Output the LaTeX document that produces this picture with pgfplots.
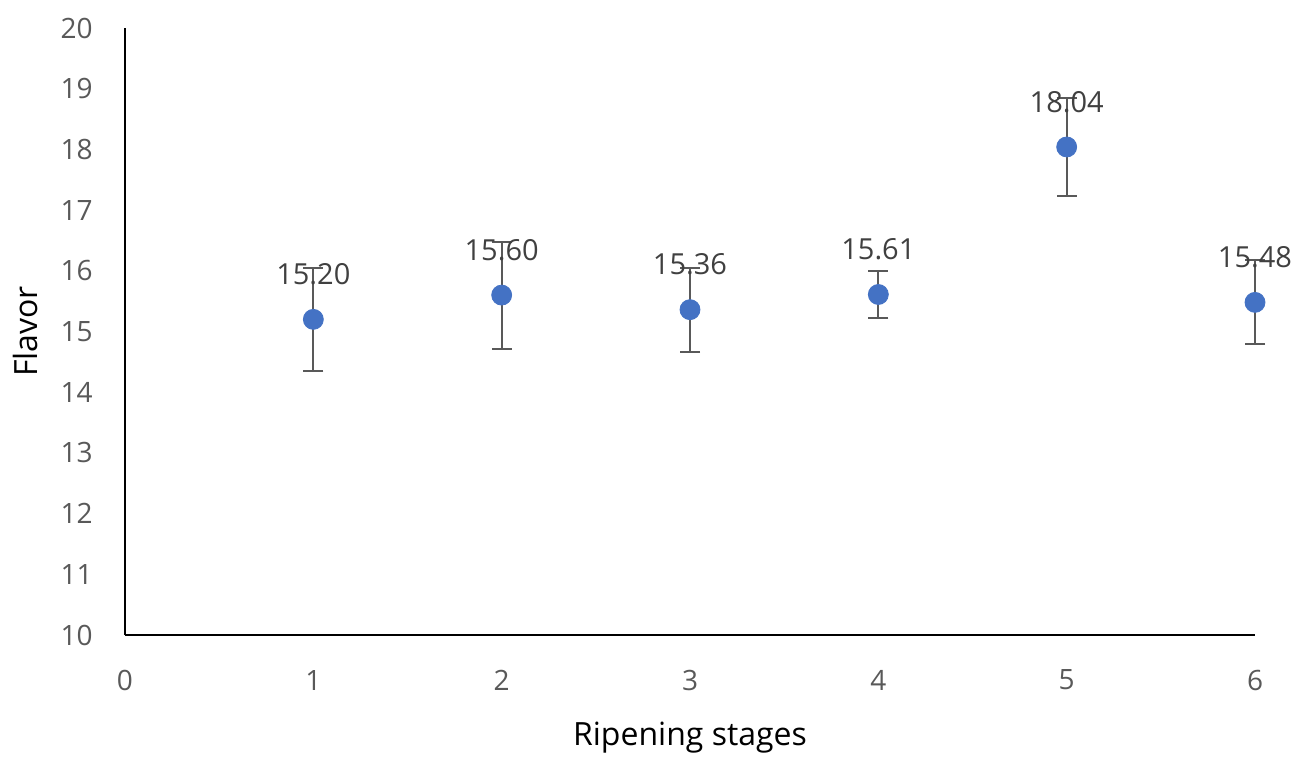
\documentclass[border=0pt]{standalone}
\usepackage{pgfplots}
\pgfplotsset{compat=1.18}
\usepackage{fontspec}
\setmainfont{Open Sans}
\definecolor{mblue}{HTML}{4472C4}
\definecolor{tgray}{HTML}{595959}
\definecolor{lgray}{HTML}{404040}
\begin{document}
\begin{tikzpicture}
\begin{axis}[
  scale only axis, width=565pt, height=303.5pt,
  at={(0,0)}, anchor=south west,
  xmin=0, xmax=6, ymin=10, ymax=20,
  xtick={0,...,6}, ytick={10,...,20},
  axis x line=bottom, axis y line=left,
  axis line style={-, black, line width=1.3pt},
  major tick length=0pt,
  /pgf/number format/assume math mode=true,
  tick label style={font=\fontsize{14}{16}\selectfont, text=tgray, inner sep=0pt},
  xticklabel style={anchor=center, yshift=-22.5pt},
  yticklabel style={anchor=east, xshift=-16pt},
  xlabel={Ripening stages},
  label style={font=\fontsize{16}{18}\selectfont, text=black},
  xlabel style={at={(axis description cs:0.5,0)}, anchor=center, yshift=-51.5pt},
  clip=false,
]
\addplot[only marks, mark=*, mark size=5pt, mark options={fill=mblue, draw=mblue},
  error bars/.cd, y dir=both, y explicit,
  error bar style={tgray, line width=1pt},
  error mark options={rotate=90, tgray, line width=1pt, mark size=5pt},
] table[x=x, y=y, y error=e] {
x y e
1 15.20 0.85
2 15.60 0.88
3 15.36 0.69
4 15.61 0.38
5 18.04 0.80
6 15.48 0.69
};
\addplot[only marks, mark=none,
  nodes near coords={\pgfmathprintnumber[fixed,fixed zerofill,precision=2,assume math mode=true]{\pgfplotspointmeta}},
  point meta=y,
  every node near coord/.style={anchor=center, yshift=22.5pt, font=\fontsize{14.5}{16}\selectfont, text=lgray},
] table[x=x, y=y] {
x y
1 15.20
2 15.60
3 15.36
4 15.61
5 18.04
6 15.48
};
\end{axis}
\node[rotate=90, font=\fontsize{16}{18}\selectfont] at (-50pt,151.75pt) {Flavor};
\pgfresetboundingbox
\path (-62.5pt,-60.5pt) rectangle (592pt,317.5pt);
\end{tikzpicture}
\end{document}
